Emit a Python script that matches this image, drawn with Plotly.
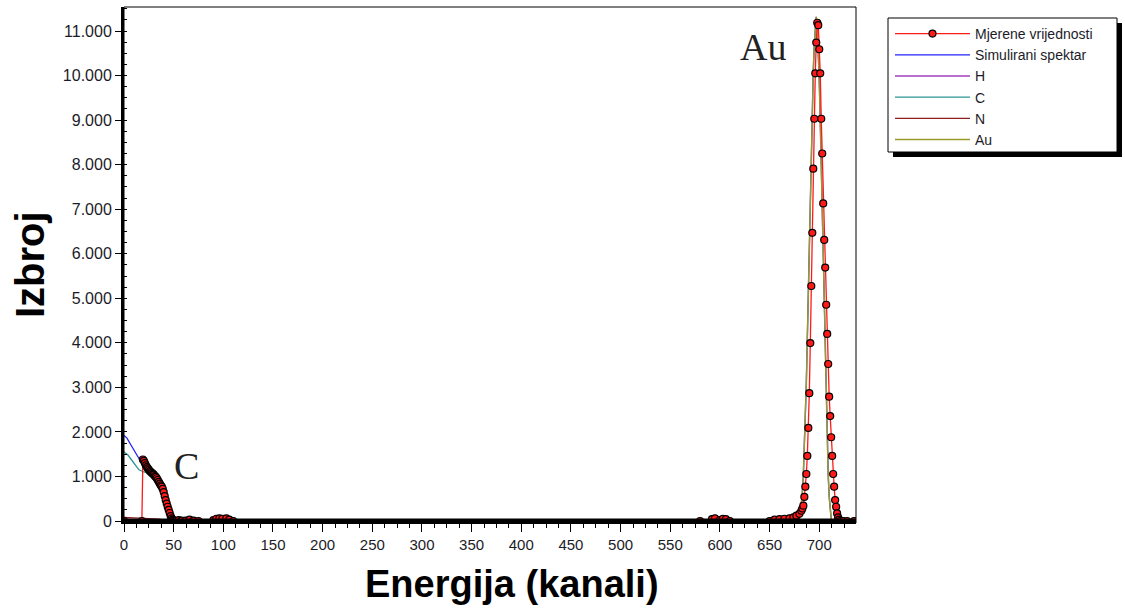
import plotly.graph_objects as go

# ---------------- data ----------------
meas_ch = [0, 18,
           19, 20, 21, 22, 23, 24, 25, 26, 27, 28, 29, 30, 31, 32, 33, 34, 35,
           36, 37, 38, 39, 40, 41, 42, 43, 44, 45, 46, 47, 48, 49, 50,
           52, 55, 58, 62, 66, 70, 75, 90, 93, 96, 99, 103, 106, 110,
           580, 592, 595, 600, 603, 606, 610,
           650, 655, 660, 665, 670, 674, 677, 680, 682, 683,
           684, 685, 686, 687, 688, 689, 690, 691, 692, 693, 694, 695, 696, 697, 698,
           699, 700, 701, 702, 703, 704, 705, 706, 707, 708, 709, 710, 711, 712, 713,
           714, 715, 716, 717, 718, 719, 720, 721, 724, 728, 735]
meas_val = [0, 0,
            1380, 1350, 1300, 1250, 1210, 1180, 1150, 1120, 1100, 1080, 1060, 1040, 1010, 990, 960, 920, 880,
            840, 800, 770, 720, 650, 560, 470, 390, 320, 250, 180, 110, 60, 30, 10,
            0, 20, 10, 10, 30, 10, 0, 20, 50, 60, 50, 60, 30, 0,
            0, 40, 60, 20, 50, 40, 0,
            0, 30, 40, 50, 60, 80, 120, 160, 230, 280,
            345, 540, 770, 1055, 1460, 2090, 2870, 3995, 5275, 6470, 7910, 9030, 10050, 10740, 11185,
            11130, 10590, 10050, 9030, 8250, 7130, 6310, 5690, 4855, 4200, 3525, 2790, 2355, 1880, 1460,
            1055, 770, 470, 320, 170, 80, 30, 0, 0, 0, 0]

sim_ch = [0, 3, 7, 12, 17, 22, 26, 30, 34, 38, 41, 43, 45, 47, 49, 51, 53,
          300, 679, 681, 682, 683, 684, 685, 686, 687, 688, 689, 690, 691, 692, 693, 694,
          695, 696, 697, 698, 699, 700, 701, 702, 703, 704, 705, 706, 707, 708, 709, 710,
          711, 712, 713, 735]
sim_val = [1920, 1860, 1705, 1520, 1330, 1180, 1110, 1040, 950, 820, 650, 480, 300, 160, 70, 20, 0,
           0, 0, 150, 350, 650, 1050, 1600, 2300, 3100, 4100, 5200, 6300, 7400, 8400, 9300, 10100,
           10700, 11150, 11320, 11100, 10600, 9900, 9000, 8000, 6900, 5800, 4700, 3600, 2600, 1750, 1050, 550,
           220, 60, 0, 0]

h_ch = [0, 20, 40, 45, 735]
h_val = [40, 30, 10, 0, 0]

c_ch = [0, 4, 9, 15, 20, 25, 30, 35, 38, 40, 42, 44, 46, 48, 50, 735]
c_val = [1550, 1480, 1330, 1150, 1100, 1070, 1000, 900, 760, 600, 380, 220, 100, 30, 0, 0]

n_ch = [0, 20, 35, 45, 735]
n_val = [80, 60, 40, 0, 0]

au_ch = [0, 679, 681, 682, 683, 684, 685, 686, 687, 688, 689, 690, 691, 692, 693, 694,
         695, 696, 697, 698, 699, 700, 701, 702, 703, 704, 705, 706, 707, 708, 709, 710,
         711, 712, 713, 735]
au_val = [0, 0, 150, 350, 650, 1050, 1600, 2300, 3100, 4100, 5200, 6300, 7400, 8400, 9300, 10100,
          10700, 11150, 11320, 11100, 10600, 9900, 9000, 8000, 6900, 5800, 4700, 3600, 2600, 1750, 1050, 550,
          220, 60, 0, 0]

x_ticks = [0, 50, 100, 150, 200, 250, 300, 350, 400, 450, 500, 550, 600, 650, 700]
y_ticks = [0, 1000, 2000, 3000, 4000, 5000, 6000, 7000, 8000, 9000, 10000, 11000]

# ---------------- figure ----------------
fig = go.Figure()
fig.add_trace(go.Scatter(x=sim_ch, y=sim_val, name="Simulirani spektar", mode="lines",
                         line=dict(color="#2323ff", width=1.3), legendrank=2))
fig.add_trace(go.Scatter(x=h_ch, y=h_val, name="H", mode="lines",
                         line=dict(color="#a23fc0", width=1.3), legendrank=3))
fig.add_trace(go.Scatter(x=c_ch, y=c_val, name="C", mode="lines",
                         line=dict(color="#2e9595", width=1.3), legendrank=4))
fig.add_trace(go.Scatter(x=n_ch, y=n_val, name="N", mode="lines",
                         line=dict(color="#8e1f1f", width=1.3), legendrank=5))
fig.add_trace(go.Scatter(x=au_ch, y=au_val, name="Au", mode="lines",
                         line=dict(color="#9a9a2c", width=1.5), legendrank=6))
fig.add_trace(go.Scatter(x=meas_ch, y=meas_val, name="Mjerene vrijednosti", mode="lines+markers",
                         line=dict(color="#ff1a1a", width=1.3),
                         marker=dict(symbol="circle", size=7, color="#ff1a1a",
                                     line=dict(color="black", width=1.2)),
                         legendrank=1))

L, R, T, B = 124, 856, 7, 523
W, H = 1125, 608


def px(xp):
    return (xp - L) / (R - L)


def py(yp):
    return (B - yp) / (B - T)


tickfont = dict(family="Liberation Sans, Arial, sans-serif", size=15, color="#1c1c28")

fig.update_layout(
    width=W, height=H,
    margin=dict(l=L, r=W - R, t=T, b=H - B, pad=0),
    paper_bgcolor="white", plot_bgcolor="white",
    separators=",.",
    showlegend=True,
    legend=dict(x=px(890), y=py(18), xanchor="left", yanchor="top",
                bgcolor="rgba(0,0,0,0)", borderwidth=0,
                font=dict(family="Liberation Sans, Arial, sans-serif", size=14, color="#1c1c28"),
                itemwidth=75, tracegroupgap=0),
    xaxis=dict(range=[0, 737], tickmode="array", tickvals=x_ticks,
               ticks="outside", ticklen=8, tickwidth=1, tickcolor="black",
               showline=True, linecolor="black", linewidth=1,
               showgrid=False, zeroline=False, tickfont=tickfont,
               minor=dict(tickmode="linear", tick0=0, dtick=12.5, ticks="outside",
                          ticklen=4, tickcolor="black", showgrid=False)),
    yaxis=dict(range=[-45, 11539], tickmode="array", tickvals=y_ticks, tickformat=",d",
               ticks="outside", ticklen=6, tickwidth=1, tickcolor="black",
               showline=True, linecolor="black", linewidth=3,
               showgrid=False, zeroline=False,
               tickfont=dict(family="Liberation Sans, Arial, sans-serif", size=16, color="#1c1c28"),
               minor=dict(tickmode="linear", tick0=0, dtick=250, ticks="inside",
                          ticklen=3, tickcolor="black", showgrid=False)),
    shapes=[
        # thick baseline band along zero counts
        dict(type="line", xref="paper", yref="y", x0=0, x1=1, y0=0, y1=0,
             line=dict(color="black", width=5), layer="above"),
        dict(type="rect", xref="paper", yref="paper", x0=0, x1=1, y0=0, y1=1,
             line=dict(color="black", width=1), fillcolor="rgba(0,0,0,0)", layer="above"),
        dict(type="rect", xref="paper", yref="paper",
             x0=px(893), x1=px(1122), y0=py(157), y1=py(23),
             line=dict(width=0), fillcolor="black", layer="above"),
        dict(type="rect", xref="paper", yref="paper",
             x0=px(888), x1=px(1117), y0=py(152), y1=py(18),
             line=dict(color="black", width=1), fillcolor="white", layer="above"),
    ],
    annotations=[
        dict(text="Au", x=643, y=10650, xref="x", yref="y", showarrow=False,
             font=dict(family="Liberation Serif, Times New Roman, serif", size=38, color="#222")),
        dict(text="C", x=63, y=1230, xref="x", yref="y", showarrow=False,
             font=dict(family="Liberation Serif, Times New Roman, serif", size=38, color="#222")),
        dict(text="<b>Izbroj</b>", x=px(30), y=py(265), xref="paper", yref="paper",
             showarrow=False, textangle=-90, xanchor="center", yanchor="middle",
             font=dict(family="Liberation Sans, Arial, sans-serif", size=40, color="black")),
        dict(text="<b>Energija (kanali)</b>", x=px(512), y=py(584), xref="paper", yref="paper",
             showarrow=False, xanchor="center", yanchor="middle",
             font=dict(family="Liberation Sans, Arial, sans-serif", size=38, color="black")),
    ],
)

fig.write_html("out.html", config={"displayModeBar": False},
               post_script="document.body.style.margin='0';")
